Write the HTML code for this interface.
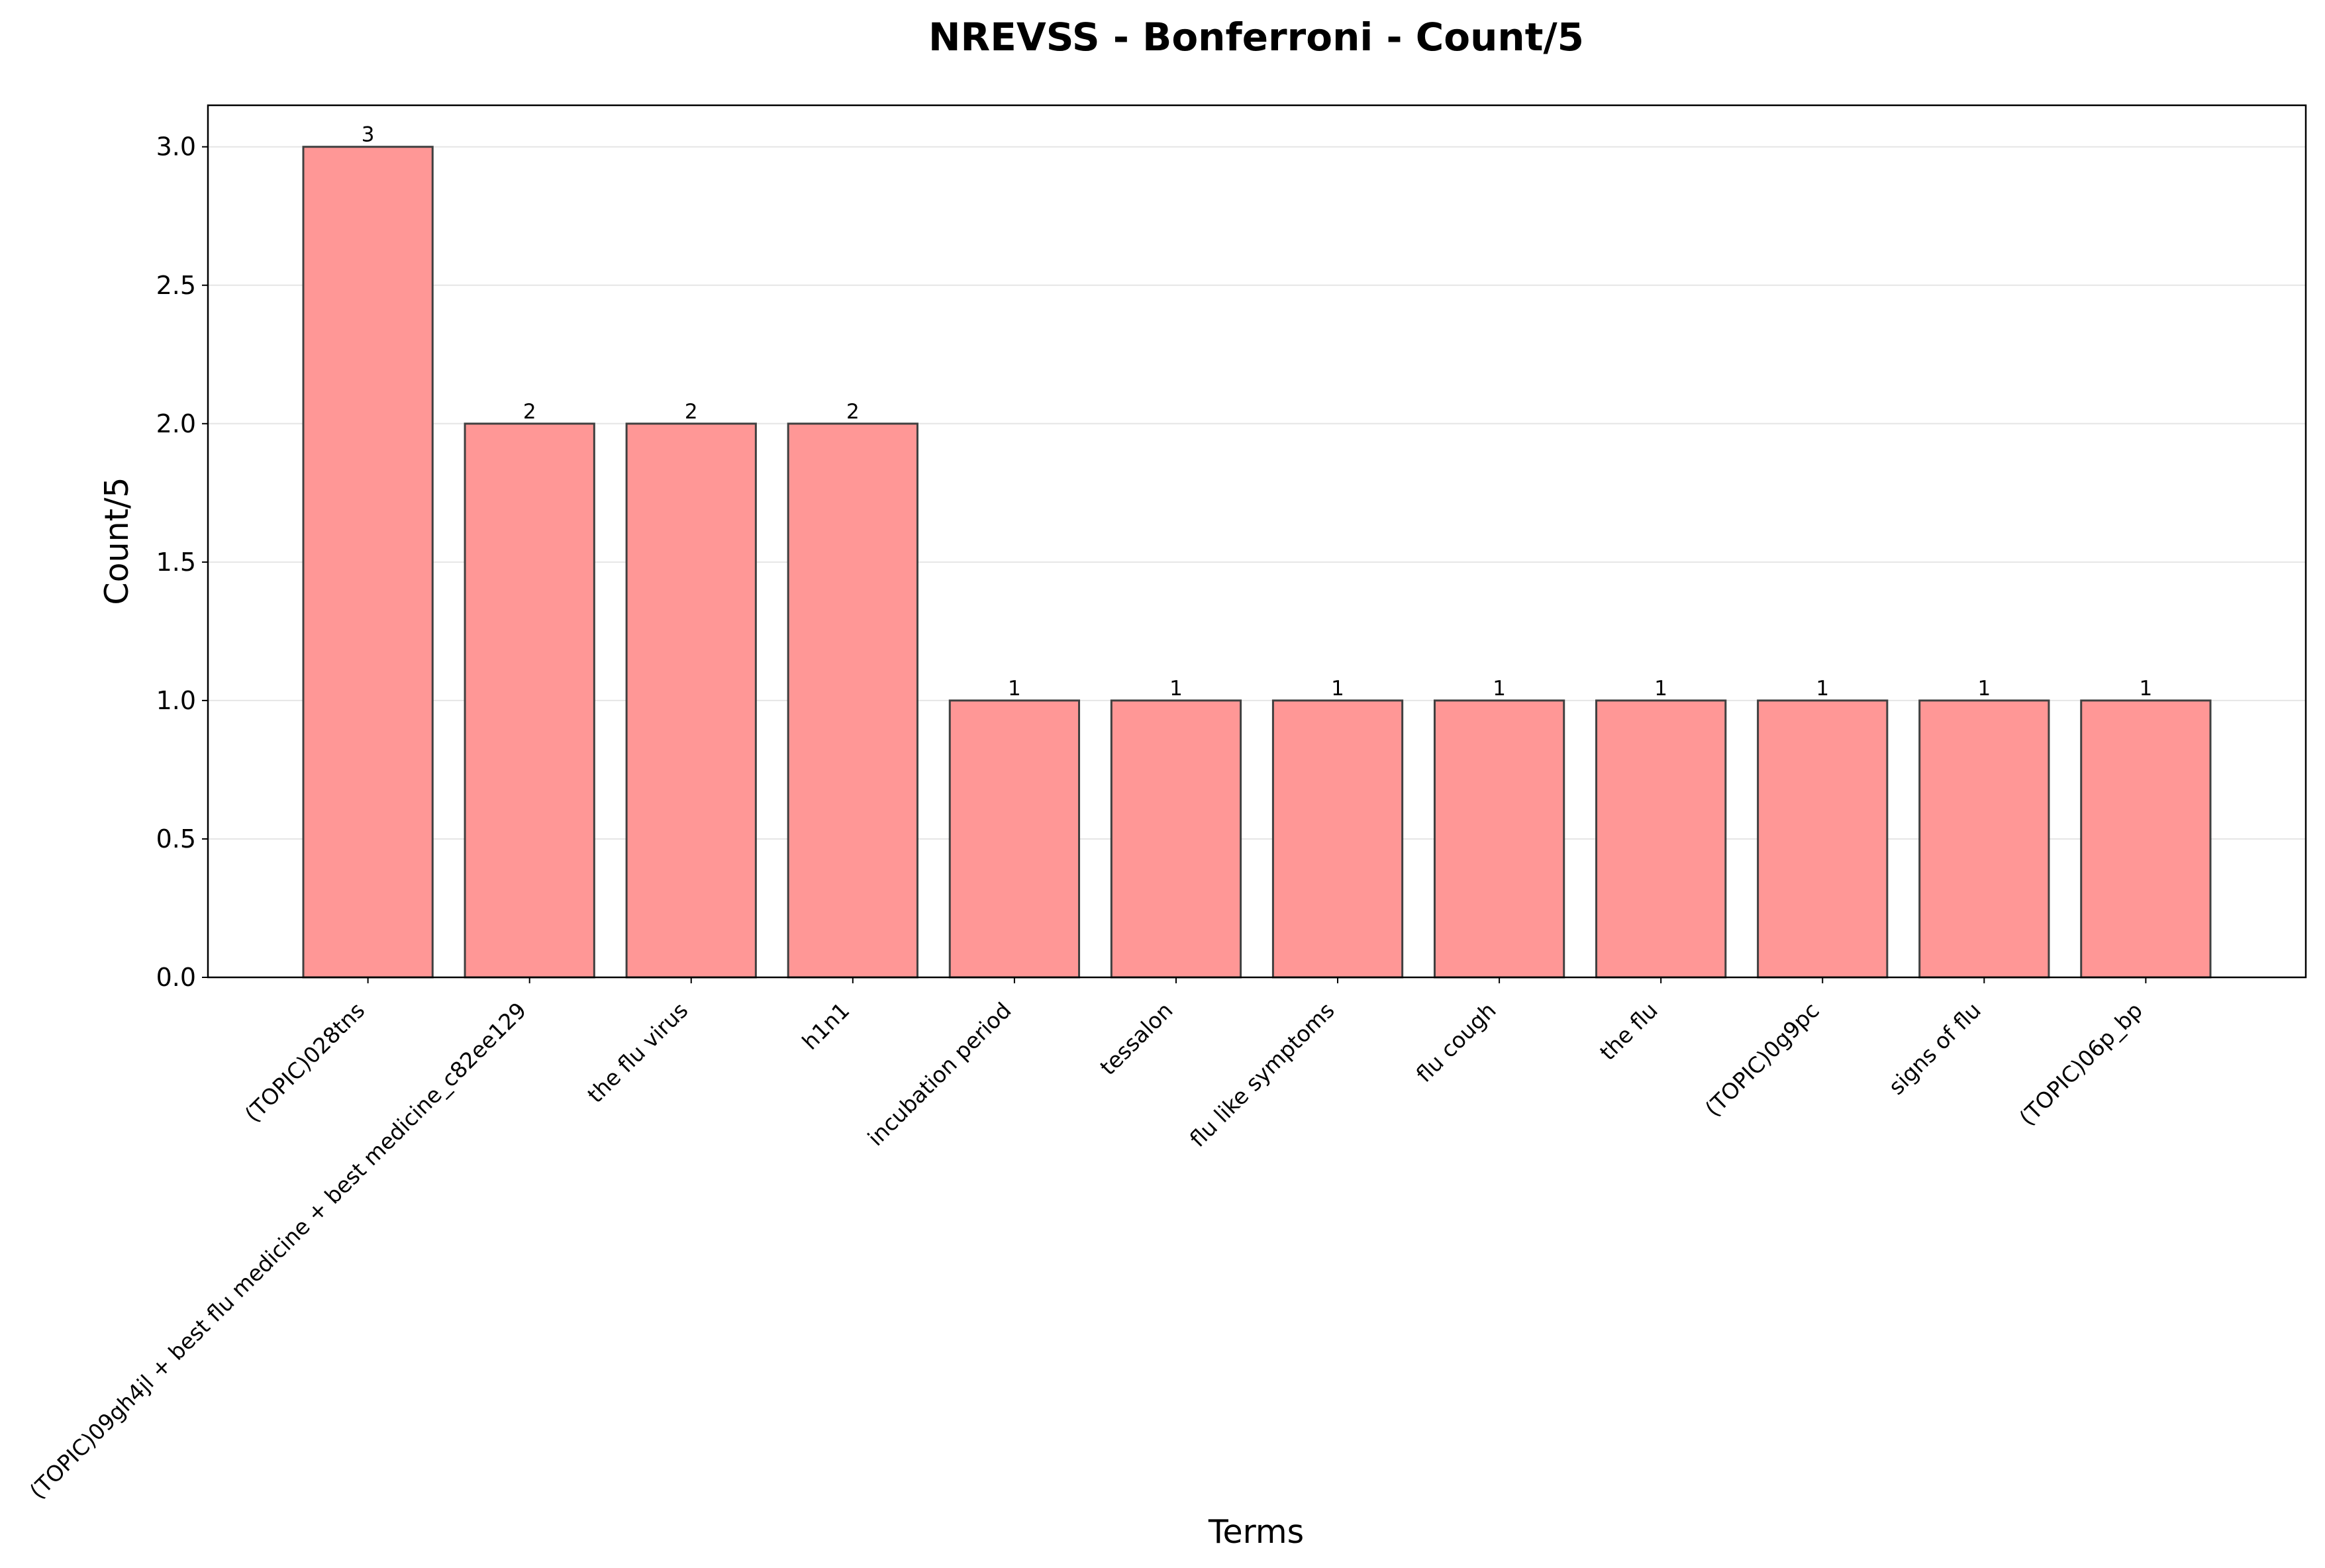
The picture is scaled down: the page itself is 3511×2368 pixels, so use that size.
<!DOCTYPE html>
<html><head><meta charset="utf-8"><style>
html,body{margin:0;padding:0;background:#fff}
svg{display:block;font-family:"DejaVu Sans","Liberation Sans",sans-serif}
</style></head><body>
<svg id="chart" width="3511" height="2368" viewBox="0 0 3511 2368" xmlns="http://www.w3.org/2000/svg">
<rect width="3511" height="2368" fill="#fff"/>
<text x="1897" y="76" text-anchor="middle" font-size="58" font-weight="bold">NREVSS - Bonferroni - Count/5</text>
<text transform="translate(193,817) rotate(-90)" text-anchor="middle" font-size="49">Count/5</text>
<text x="1897" y="2330" text-anchor="middle" font-size="49">Terms</text>
<g id="grid"></g><g id="bars"></g><g id="axes"></g>
</svg>
<script>
const categories = ["(TOPIC)028tns","(TOPIC)09gh4jl + best flu medicine + best medicine_c82ee129","the flu virus","h1n1","incubation period","tessalon","flu like symptoms","flu cough","the flu","(TOPIC)0g9pc","signs of flu","(TOPIC)06p_bp"];
const values = [3,2,2,2,1,1,1,1,1,1,1,1];
const yTicks = [0,0.5,1,1.5,2,2.5,3];
const yTickLabels = ["0.0","0.5","1.0","1.5","2.0","2.5","3.0"];

const NS="http://www.w3.org/2000/svg";
const L=314,R=3482,T=159,B=1476;
const yMax=3.15, xMin=-0.99, xMax=11.99;
function sx(i){return L+(i-xMin)/(xMax-xMin)*(R-L);}
function sy(v){return B-v/yMax*(B-T);}
function mk(tag,attrs,parent,txt){const e=document.createElementNS(NS,tag);for(const k in attrs)e.setAttribute(k,attrs[k]);if(txt!==undefined)e.textContent=txt;parent.appendChild(e);return e;}
const grid=document.getElementById('grid'),bars=document.getElementById('bars'),axes=document.getElementById('axes');
const bw=(sx(0.4)-sx(-0.4));
yTicks.forEach((t,k)=>{
  const y=sy(t);
  const g=mk('line',{x1:L,x2:R,y1:y,y2:y,stroke:'#e6e6e6','stroke-width':2},grid);
  
  
  const tk=mk('line',{x1:L-9,x2:L,y1:y,y2:y,stroke:'#000','stroke-width':2},axes);
  
  
  const tl=mk('text',{x:L-18,y:y+13,'text-anchor':'end','font-size':38},axes,yTickLabels[k]);
  
  
});
values.forEach((v,i)=>{
  const cx=sx(i);
  const r=mk('rect',{x:cx-bw/2,y:sy(v),width:bw,height:B-sy(v),fill:'#ff9796',stroke:'#404040','stroke-width':3},bars);
  
  
  const vl=mk('text',{x:cx,y:sy(v)-8,'text-anchor':'middle','font-size':31},bars,String(v));
  
  
  const tk=mk('line',{x1:cx,x2:cx,y1:B,y2:B+9,stroke:'#000','stroke-width':2},axes);
  
  
  const xl=mk('text',{transform:`translate(${cx-3},${B+52}) rotate(-45)`,'text-anchor':'end','font-size':33},axes,categories[i]);
  
  
});
const fr=mk('rect',{x:L,y:T,width:R-L,height:B-T,fill:'none',stroke:'#000','stroke-width':2.5},axes);


</script>
</body></html>
